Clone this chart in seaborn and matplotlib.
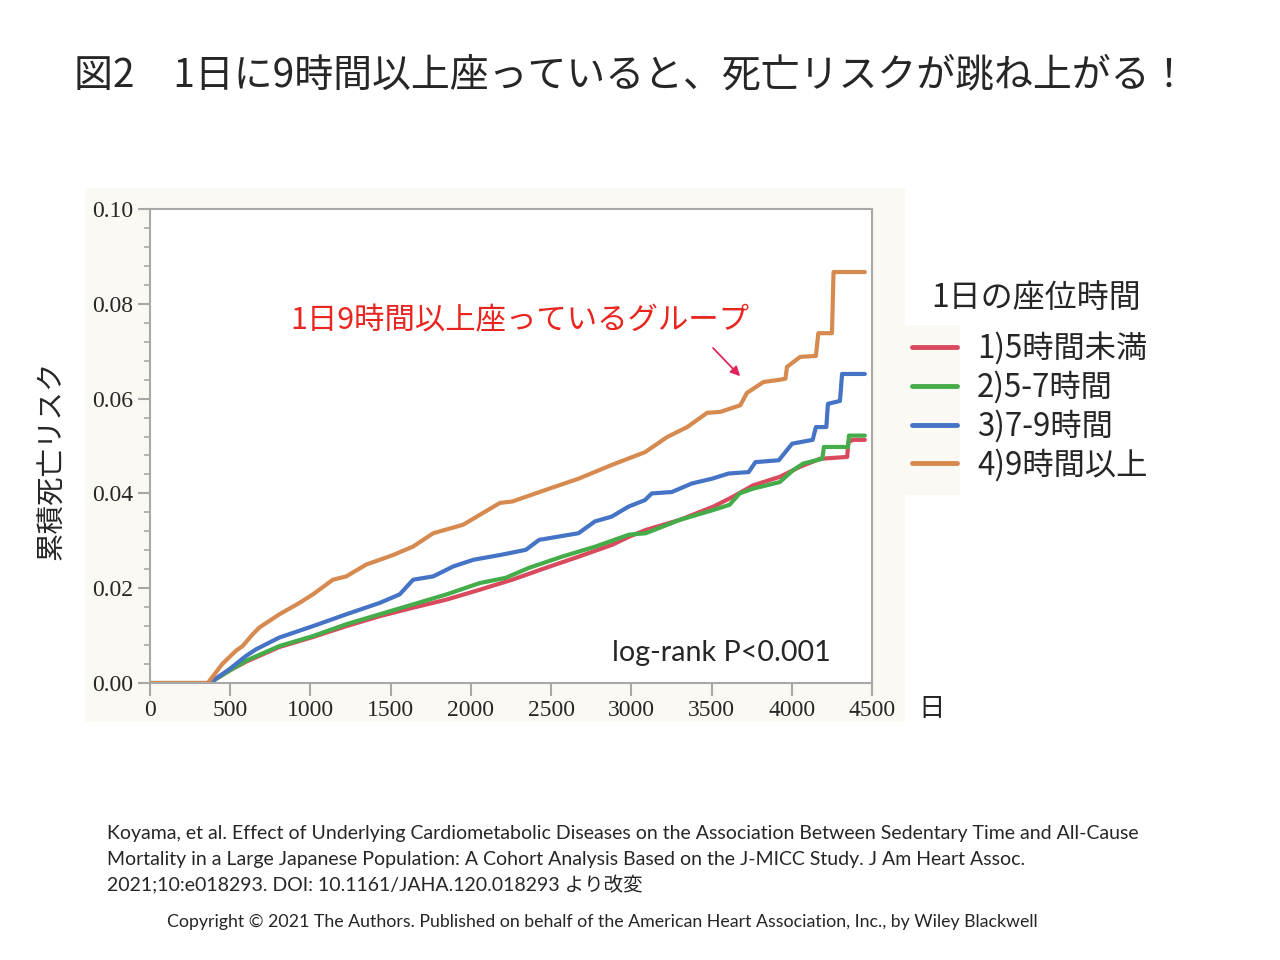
import matplotlib
matplotlib.use("Agg")
import matplotlib.pyplot as plt
import matplotlib.patches as mpatches
from matplotlib.ticker import MultipleLocator
import seaborn as sns
import pandas as pd

# 累積死亡リスク
groups = ["1)5時間未満", "2)5-7時間", "3)7-9時間", "4)9時間以上"]
colors = ["#d94a5e", "#44ad4a", "#4573c6", "#d68a4f"]

days_g1 = [0, 370, 494, 598, 806, 1015, 1223, 1431, 1640, 1848, 2056, 2258, 2467, 2675, 2883,
           2988, 3090, 3300, 3510, 3633, 3758, 3925, 4050, 4175, 4345, 4352, 4380, 4455]
risk_g1 = [0, 0, 0.0026, 0.0045, 0.0076, 0.0097, 0.0120, 0.0141, 0.0159, 0.0176, 0.0197, 0.0218,
           0.0243, 0.0267, 0.0292, 0.0309, 0.0323, 0.0344, 0.0372, 0.0393, 0.0417, 0.0435, 0.0456,
           0.0473, 0.0477, 0.0508, 0.0513, 0.0513]

days_g2 = [0, 370, 494, 598, 806, 1015, 1223, 1431, 1640, 1848, 2056, 2217, 2362, 2571, 2777,
           2985, 3090, 3300, 3510, 3612, 3675, 3758, 3925, 4008, 4071, 4190, 4200, 4350, 4356, 4455]
risk_g2 = [0, 0, 0.0026, 0.0047, 0.0078, 0.0099, 0.0124, 0.0145, 0.0166, 0.0187, 0.0211, 0.0222,
           0.0243, 0.0267, 0.0288, 0.0313, 0.0316, 0.0344, 0.0365, 0.0376, 0.0400, 0.0410, 0.0424,
           0.0449, 0.0463, 0.0473, 0.0498, 0.0498, 0.0522, 0.0522]

days_g3 = [0, 370, 494, 598, 660, 806, 1015, 1223, 1431, 1556, 1640, 1765, 1890, 2015, 2181,
           2342, 2425, 2670, 2773, 2877, 2981, 3085, 3127, 3252, 3377, 3502, 3606, 3731, 3773,
           3919, 4002, 4130, 4150, 4215, 4225, 4300, 4313, 4455]
risk_g3 = [0, 0, 0.0029, 0.0057, 0.0071, 0.0096, 0.0120, 0.0145, 0.0169, 0.0187, 0.0218, 0.0225,
           0.0246, 0.0260, 0.0270, 0.0281, 0.0302, 0.0316, 0.0341, 0.0351, 0.0372, 0.0386, 0.0400,
           0.0403, 0.0421, 0.0431, 0.0442, 0.0445, 0.0466, 0.0470, 0.0505, 0.0513, 0.0540, 0.0540,
           0.0589, 0.0595, 0.0652, 0.0652]

days_g4 = [0, 360, 450, 535, 577, 640, 681, 806, 931, 1015, 1140, 1223, 1348, 1515, 1640, 1765,
           1952, 2056, 2181, 2258, 2462, 2670, 2877, 3085, 3223, 3348, 3472, 3554, 3679, 3720,
           3823, 3928, 3960, 3970, 4052, 4150, 4165, 4250, 4260, 4455]
risk_g4 = [0, 0, 0.0040, 0.0068, 0.0078, 0.0103, 0.0117, 0.0145, 0.0169, 0.0187, 0.0218, 0.0225,
           0.0250, 0.0270, 0.0288, 0.0316, 0.0334, 0.0355, 0.0380, 0.0383, 0.0407, 0.0431, 0.0460,
           0.0487, 0.0519, 0.0540, 0.0570, 0.0572, 0.0586, 0.0612, 0.0635, 0.0640, 0.0642, 0.0667,
           0.0688, 0.0690, 0.0738, 0.0738, 0.0867, 0.0867]

x_ticks = [0, 500, 1000, 1500, 2000, 2500, 3000, 3500, 4000, 4500]
y_ticks = [0.00, 0.02, 0.04, 0.06, 0.08, 0.10]

frames = []
for g, d, r in zip(groups, [days_g1, days_g2, days_g3, days_g4], [risk_g1, risk_g2, risk_g3, risk_g4]):
    frames.append(pd.DataFrame({"day": d, "risk": r, "group": g}))
df = pd.concat(frames, ignore_index=True)

sns.set_style("white")
jp = ["Noto Sans CJK JP", "DejaVu Sans"]
plt.rcParams["font.family"] = jp

fig = plt.figure(figsize=(12.8, 9.6), dpi=100)
fig.patch.set_facecolor("white")

# 薄いクリーム色の背景
fig.patches.append(mpatches.Rectangle((0.0664, 0.2479), 0.6406, 0.556, transform=fig.transFigure,
                                      facecolor="#fbf9f4", edgecolor="none", zorder=-5))
fig.patches.append(mpatches.Rectangle((0.707, 0.484), 0.043, 0.177, transform=fig.transFigure,
                                      facecolor="#fbf9f4", edgecolor="none", zorder=-5))

ax = fig.add_axes([0.1172, 0.2885, 0.5641, 0.4938])
ax.set_zorder(2)
ax.set_facecolor("white")

sns.lineplot(data=df, x="day", y="risk", hue="group", palette=colors, hue_order=groups,
             estimator=None, sort=False, linewidth=3, ax=ax)

ax.set_xlim(0, 4500)
ax.set_ylim(0, 0.10)
ax.set_xticks(x_ticks)
ax.set_yticks(y_ticks)
ax.set_yticklabels([f"{v:.2f}" for v in y_ticks])
ax.yaxis.set_minor_locator(MultipleLocator(0.004))
ax.set_xlabel("")
ax.set_ylabel("")

for s in ax.spines.values():
    s.set_color("#a8a8a8")
    s.set_linewidth(1.5)
ax.tick_params(axis="both", which="major", direction="out", length=9, width=1.5,
               color="#a8a8a8", labelsize=17, pad=3, left=True, bottom=True)
ax.tick_params(axis="y", which="minor", direction="out", length=4, width=1.2,
               color="#a8a8a8", left=True)
for lab in ax.get_xticklabels() + ax.get_yticklabels():
    lab.set_fontfamily("Liberation Serif")

handles, labels = ax.get_legend_handles_labels()
leg = ax.legend(handles, labels, loc="upper left",
                bbox_to_anchor=(0.7027, 0.667), bbox_transform=fig.transFigure,
                frameon=False, fontsize=22.5, handlelength=1.44,
                handletextpad=0.64, labelspacing=0.19, borderaxespad=0)
for line in leg.get_lines():
    line.set_linewidth(3.5)
fig.text(0.8094, 0.6896, "1日の座位時間", fontsize=23, ha="center", va="center")

ax.annotate("", xy=(3690, 0.0643), xytext=(3497, 0.0711),
            arrowprops=dict(arrowstyle="-|>", color="#e2245a", lw=1.3, mutation_scale=14))
ax.text(2307, 0.0764, "1日9時間以上座っているグループ", color="#e8251f", fontsize=21.9,
        ha="center", va="center")
ax.text(3560, 0.0063, "log-rank P<0.001", fontsize=20.6, ha="center", va="center",
        fontfamily=["Lato", "DejaVu Sans"])

fig.text(0.493, 0.921, "図2　1日に9時間以上座っていると、死亡リスクが跳ね上がる！",
         fontsize=28, ha="center", va="center")
fig.text(0.041, 0.521, "累積死亡リスク", rotation=90, fontsize=20.5, ha="center", va="center")
fig.text(0.728, 0.262, "日", fontsize=19, ha="center", va="center")

foot = ["Lato", "Noto Sans CJK JP"]
fig.text(0.0836, 0.132, "Koyama, et al. Effect of Underlying Cardiometabolic Diseases on the Association "
         "Between Sedentary Time and All-Cause", fontsize=14, ha="left", va="center", family=foot)
fig.text(0.0836, 0.105, "Mortality in a Large Japanese Population: A Cohort Analysis Based on the "
         "J-MICC Study. J Am Heart Assoc.", fontsize=14, ha="left", va="center", family=foot)
fig.text(0.0836, 0.078, "2021;10:e018293. DOI: 10.1161/JAHA.120.018293 より改変", fontsize=14,
         ha="left", va="center", family=foot)
fig.text(0.4703, 0.0396, "Copyright © 2021 The Authors. Published on behalf of the American Heart "
         "Association, Inc., by Wiley Blackwell", fontsize=12.8, ha="center", va="center", family=foot)

fig.savefig("out.png", dpi=100, facecolor="white")
